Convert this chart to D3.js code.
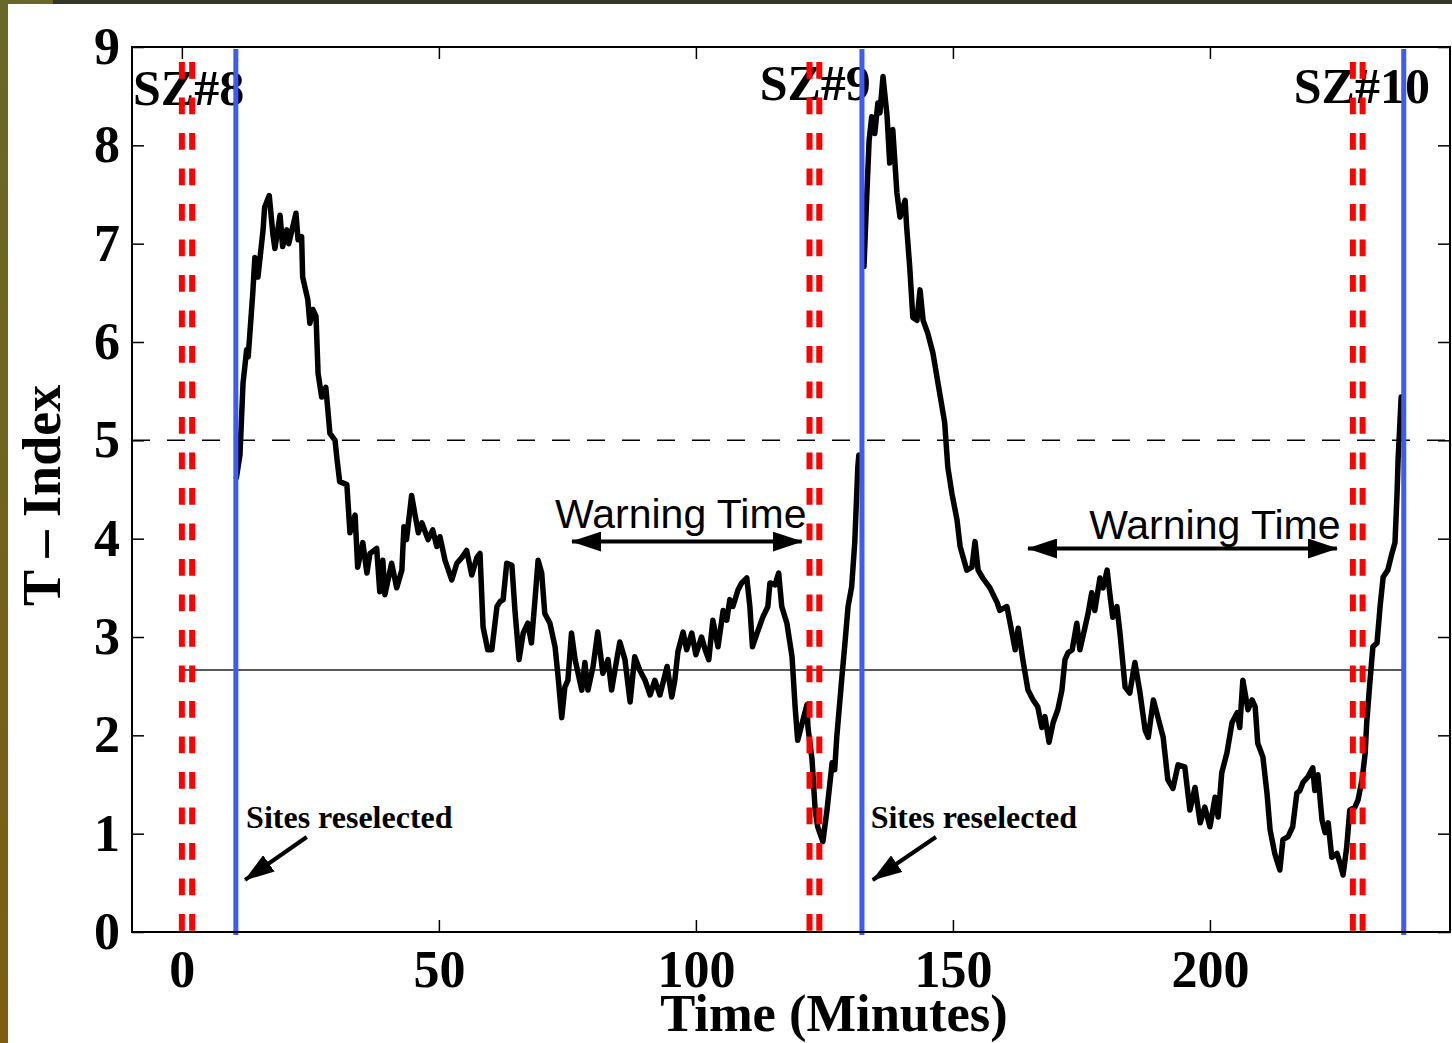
<!DOCTYPE html>
<html>
<head>
<meta charset="utf-8">
<script src="https://cdn.jsdelivr.net/npm/d3@7/dist/d3.min.js"></script>
<style>
  body { margin: 0; background: #fff; }
  svg { display: block; }
</style>
</head>
<body>
<svg id="chart" width="1452" height="1043"></svg>
<script>
// axis ticks
const xTicks = [0, 50, 100, 150, 200];
const yTicks = [0, 1, 2, 3, 4, 5, 6, 7, 8, 9];

// seizures: label, onset lines (two red dashed), sites reselected (blue)
const szLabels = ['SZ#8', 'SZ#9', 'SZ#10'];
const szLabelAt = [[-9.5, 8.41], [112.4, 8.46], [216.3, 8.43]];
const szOnsets = [[0, 2.0], [122.1, 124.0], [227.8, 229.7]];
const reselectTimes = [10.5, 132.3, 237.7];

// reference levels
const criticalLevel = 5;
const thresholdLevel = 2.665;
const thresholdSpan = [0, 237.7];

// T-index, [minutes, value], one run per selection of sites
const tIndexRun1 = [
  [10.6, 4.62], [11.3, 4.85], [11.9, 5.58], [12.6, 5.92], [12.9, 5.85], [13.8, 6.5], [14.2, 6.86],
  [14.8, 6.66], [15.8, 7.14], [16.1, 7.37], [17.0, 7.49], [17.7, 7.1], [18.1, 6.95], [19.1, 7.29],
  [19.6, 6.97], [20.4, 7.14], [20.8, 7.0], [22.2, 7.31], [22.6, 7.04], [23.3, 7.07], [23.5, 6.66],
  [24.5, 6.43], [24.9, 6.19], [25.5, 6.33], [26.1, 6.26], [26.5, 5.68], [27.2, 5.44], [28.0, 5.54],
  [28.4, 5.31], [28.8, 5.07], [29.8, 5.0], [30.2, 4.8], [30.7, 4.58], [32.1, 4.55], [32.7, 4.06],
  [33.7, 4.24], [34.2, 3.71], [35.2, 3.96], [36.0, 3.65], [36.6, 3.85], [37.9, 3.9], [38.5, 3.46],
  [39.1, 3.78], [39.5, 3.43], [40.8, 3.75], [41.8, 3.5], [42.8, 3.68], [43.2, 4.12], [43.7, 3.99],
  [44.7, 4.44], [45.3, 4.26], [46.0, 4.06], [46.7, 4.16], [47.9, 3.99], [48.8, 4.09], [49.6, 3.92],
  [50.2, 4.02], [51.2, 3.78], [52.5, 3.58], [53.5, 3.75], [54.5, 3.81], [55.4, 3.88], [56.4, 3.63],
  [57.4, 3.81], [58.0, 3.85], [58.6, 3.1], [59.5, 2.87], [60.3, 2.87], [61.3, 3.31], [61.9, 3.36],
  [62.5, 3.38], [63.2, 3.75], [64.2, 3.73], [64.8, 3.27], [65.6, 2.77], [66.4, 3.04], [67.3, 3.14],
  [68.0, 2.94], [68.7, 3.38], [69.3, 3.78], [70.0, 3.65], [70.6, 3.24], [71.6, 3.14], [72.6, 2.9],
  [73.2, 2.59], [73.9, 2.18], [74.5, 2.49], [75.1, 2.56], [75.8, 3.04], [76.5, 2.77], [77.8, 2.46],
  [78.4, 2.74], [79.0, 2.46], [80.0, 2.7], [80.9, 3.05], [81.9, 2.63], [82.9, 2.77], [83.6, 2.46],
  [84.6, 2.77], [85.2, 2.95], [86.2, 2.77], [87.2, 2.34], [88.1, 2.8], [89.1, 2.66], [90.1, 2.56],
  [91.1, 2.41], [92.0, 2.56], [93.0, 2.41], [94.4, 2.7], [95.3, 2.39], [95.9, 2.56], [96.5, 2.85],
  [97.5, 3.05], [98.2, 2.87], [99.2, 3.04], [100.0, 2.82], [101.1, 3.0], [101.8, 2.87], [102.5, 2.77],
  [103.3, 3.17], [104.3, 2.9], [105.3, 3.27], [106.0, 3.17], [106.6, 3.38], [107.2, 3.31], [108.2, 3.48],
  [108.9, 3.55], [109.9, 3.6], [110.5, 3.31], [111.0, 2.9], [111.9, 3.04], [113.0, 3.2], [114.0, 3.31],
  [114.4, 3.55], [115.4, 3.53], [116.1, 3.65], [116.7, 3.31], [117.7, 3.14], [118.7, 2.8], [119.3, 2.29],
  [119.8, 1.95], [120.8, 2.15], [121.6, 2.31], [121.8, 2.08], [122.6, 1.75], [123.2, 1.24], [123.7, 1.07],
  [124.7, 0.92], [125.5, 1.24], [126.5, 1.72], [127.0, 1.65], [127.4, 1.98], [128.4, 2.59], [129.0, 2.94],
  [129.6, 3.31], [130.3, 3.51], [130.9, 3.96], [131.5, 4.73], [131.7, 4.85]
];
const tIndexRun2 = [
  [132.7, 6.77], [133.2, 7.44], [133.7, 8.05], [134.2, 8.29], [134.8, 8.12], [135.4, 8.43], [135.8, 8.33],
  [136.4, 8.7], [137.2, 8.29], [137.7, 7.82], [138.3, 8.16], [139.1, 7.52], [139.7, 7.27], [140.7, 7.44],
  [141.0, 7.17], [141.6, 6.76], [142.2, 6.25], [143.0, 6.22], [143.6, 6.53], [144.2, 6.22], [145.1, 6.09],
  [146.1, 5.89], [147.1, 5.58], [148.4, 5.18], [149.0, 4.73], [149.8, 4.46], [150.8, 4.19], [151.4, 3.92],
  [152.7, 3.68], [153.7, 3.71], [154.3, 3.97], [154.9, 3.68], [155.8, 3.6], [157.2, 3.5], [158.6, 3.35],
  [159.1, 3.27], [160.5, 3.31], [161.5, 3.04], [162.1, 2.87], [162.7, 3.09], [163.6, 2.77], [164.6, 2.46],
  [165.6, 2.36], [166.5, 2.29], [167.3, 2.08], [167.9, 2.19], [168.7, 1.93], [169.5, 2.13], [170.4, 2.26],
  [171.2, 2.46], [171.8, 2.77], [172.4, 2.84], [173.2, 2.87], [174.1, 3.14], [174.7, 2.87], [175.7, 3.1],
  [176.3, 3.24], [177.0, 3.45], [177.6, 3.27], [178.6, 3.6], [179.2, 3.5], [180.0, 3.68], [180.5, 3.45],
  [181.1, 3.2], [181.9, 3.31], [182.5, 3.04], [183.5, 2.49], [184.4, 2.43], [185.4, 2.74], [186.4, 2.43],
  [187.4, 2.05], [188.0, 1.98], [189.0, 2.36], [190.0, 2.16], [190.9, 1.98], [191.8, 1.55], [192.8, 1.46],
  [193.8, 1.7], [195.1, 1.68], [196.1, 1.24], [197.1, 1.47], [198.1, 1.11], [199.0, 1.27], [200.0, 1.07],
  [201.0, 1.37], [201.6, 1.17], [202.3, 1.62], [203.3, 1.82], [204.3, 2.13], [205.3, 2.23], [205.8, 2.08],
  [206.4, 2.56], [207.4, 2.26], [208.2, 2.36], [208.8, 2.29], [209.3, 1.92], [210.3, 1.78], [211.1, 1.41],
  [211.7, 1.04], [212.6, 0.8], [213.6, 0.63], [214.2, 0.94], [215.2, 0.97], [216.1, 1.07], [216.9, 1.41],
  [217.5, 1.44], [218.1, 1.52], [219.1, 1.58], [220.0, 1.67], [220.4, 1.44], [221.0, 1.6], [221.8, 1.14],
  [222.4, 1.01], [223.0, 1.11], [223.7, 0.76], [224.7, 0.8], [225.3, 0.7], [225.9, 0.58], [226.6, 0.86],
  [227.2, 1.24], [228.2, 1.27], [228.8, 1.34], [229.6, 1.55], [230.2, 1.82], [230.5, 2.13], [231.1, 2.53],
  [231.7, 2.9], [232.5, 2.94], [233.1, 3.31], [233.7, 3.61], [234.6, 3.68], [235.4, 3.85], [236.0, 3.96],
  [236.4, 4.46], [236.6, 4.8], [237.2, 5.44]
];

// annotations
const warningArrows = [[75.9, 120.6, 3.97], [164.6, 224.7, 3.9]];
const warningLabelAt = [[72.6, 4.11], [176.5, 4.0]];
const reselectArrows = [[[24.3, 0.966], [12.3, 0.529]], [[146.7, 0.966], [134.4, 0.529]]];
const reselectLabelAt = [[12.5, 1.06], [134.0, 1.06]];

const svg = d3.select('#chart');
const serif = '"Liberation Serif", "Times New Roman", serif';
const sans = '"Liberation Sans", Arial, sans-serif';

const plot = { left: 132, right: 1450, top: 47, bottom: 932 };

const x = d3.scaleLinear().domain([-9.7, 246.7]).range([plot.left, plot.right]);
const y = d3.scaleLinear().domain([0, 9]).range([plot.bottom, plot.top]);

// slide edge behind the figure
const defs = svg.append('defs');
const grad = defs.append('linearGradient').attr('id', 'edge').attr('x1', 0).attr('y1', 0).attr('x2', 0).attr('y2', 1);
grad.append('stop').attr('offset', '0%').attr('stop-color', '#676828');
grad.append('stop').attr('offset', '100%').attr('stop-color', '#7c5d12');
svg.append('rect').attr('x', 0).attr('y', 0).attr('width', 1452).attr('height', 4).attr('fill', '#333527');
svg.append('rect').attr('x', 0).attr('y', 0).attr('width', 53).attr('height', 4).attr('fill', '#676828');
svg.append('rect').attr('x', 0).attr('y', 0).attr('width', 8).attr('height', 1043).attr('fill', 'url(#edge)');

defs.append('marker')
    .attr('id', 'head')
    .attr('viewBox', '0 0 30 20')
    .attr('refX', 29).attr('refY', 10)
    .attr('markerWidth', 30).attr('markerHeight', 20)
    .attr('markerUnits', 'userSpaceOnUse')
    .attr('orient', 'auto-start-reverse')
    .append('path')
    .attr('d', 'M0,0 L30,10 L0,20 Z')
    .attr('fill', '#000');

// axes: ticks pointing inward on all four sides
const styleAxis = g => {
    g.select('.domain').remove();
    g.selectAll('.tick line').attr('stroke', '#000').attr('stroke-width', 1.5);
    g.selectAll('.tick text')
        .attr('fill', '#000')
        .style('font-family', serif)
        .style('font-weight', 'bold')
        .style('font-size', '52px');
};

svg.append('g')
    .attr('transform', `translate(0,${plot.bottom})`)
    .call(d3.axisBottom(x).tickValues(xTicks).tickSizeInner(-12).tickSizeOuter(0).tickPadding(18))
    .call(styleAxis);
svg.append('g')
    .attr('transform', `translate(0,${plot.top})`)
    .call(d3.axisTop(x).tickValues(xTicks).tickSizeInner(-12).tickSizeOuter(0).tickFormat(''))
    .call(styleAxis);
svg.append('g')
    .attr('transform', `translate(${plot.left},0)`)
    .call(d3.axisLeft(y).tickValues(yTicks).tickSizeInner(-12).tickSizeOuter(0).tickPadding(12))
    .call(styleAxis);
svg.append('g')
    .attr('transform', `translate(${plot.right},0)`)
    .call(d3.axisRight(y).tickValues(yTicks).tickSizeInner(-12).tickSizeOuter(0).tickFormat(''))
    .call(styleAxis);

// reference lines
svg.append('line')
    .attr('x1', plot.left).attr('x2', plot.right)
    .attr('y1', y(criticalLevel)).attr('y2', y(criticalLevel))
    .attr('stroke', '#000').attr('stroke-width', 1.5)
    .attr('stroke-dasharray', '18 17');
svg.append('line')
    .attr('x1', x(thresholdSpan[0])).attr('x2', x(thresholdSpan[1]))
    .attr('y1', y(thresholdLevel)).attr('y2', y(thresholdLevel))
    .attr('stroke', '#222').attr('stroke-width', 1.5);

// T-index curves
const line = d3.line().x(d => x(d[0])).y(d => y(d[1]));
svg.selectAll('path.tindex')
    .data([tIndexRun1, tIndexRun2])
    .join('path')
    .attr('class', 'tindex')
    .attr('d', line)
    .attr('fill', 'none')
    .attr('stroke', '#000')
    .attr('stroke-width', 5.5)
    .attr('stroke-linejoin', 'round')
    .attr('stroke-linecap', 'round');

// seizure labels
svg.selectAll('text.sz')
    .data(szLabels)
    .join('text')
    .attr('class', 'sz')
    .attr('x', (d, i) => x(szLabelAt[i][0]))
    .attr('y', (d, i) => y(szLabelAt[i][1]))
    .style('font-family', serif)
    .style('font-weight', 'bold')
    .style('font-size', '50px')
    .text(d => d);

// seizure onsets, red double dashed
svg.selectAll('line.onset')
    .data(szOnsets.flat())
    .join('line')
    .attr('class', 'onset')
    .attr('x1', d => x(d)).attr('x2', d => x(d))
    .attr('y1', y(9)).attr('y2', y(0))
    .attr('stroke', '#ff0000')
    .attr('stroke-width', 6)
    .attr('stroke-dasharray', '16.7 18.8')
    .attr('stroke-dashoffset', 20.5);

// sites reselected, blue
svg.selectAll('line.reselect')
    .data(reselectTimes)
    .join('line')
    .attr('class', 'reselect')
    .attr('x1', d => x(d)).attr('x2', d => x(d))
    .attr('y1', y(8.98)).attr('y2', y(-0.03))
    .attr('stroke', '#3b5cf8')
    .attr('stroke-width', 5);

// warning time arrows
svg.selectAll('line.warn')
    .data(warningArrows)
    .join('line')
    .attr('class', 'warn')
    .attr('x1', d => x(d[0])).attr('x2', d => x(d[1]))
    .attr('y1', d => y(d[2])).attr('y2', d => y(d[2]))
    .attr('stroke', '#000').attr('stroke-width', 4)
    .attr('marker-start', 'url(#head)')
    .attr('marker-end', 'url(#head)');
svg.selectAll('text.warn')
    .data(warningLabelAt)
    .join('text')
    .attr('class', 'warn')
    .attr('x', d => x(d[0])).attr('y', d => y(d[1]))
    .style('font-family', sans)
    .style('font-size', '41px')
    .text('Warning Time');

// sites reselected arrows
svg.selectAll('line.site')
    .data(reselectArrows)
    .join('line')
    .attr('class', 'site')
    .attr('x1', d => x(d[0][0])).attr('y1', d => y(d[0][1]))
    .attr('x2', d => x(d[1][0])).attr('y2', d => y(d[1][1]))
    .attr('stroke', '#000').attr('stroke-width', 4)
    .attr('marker-end', 'url(#head)');
svg.selectAll('text.site')
    .data(reselectLabelAt)
    .join('text')
    .attr('class', 'site')
    .attr('x', d => x(d[0])).attr('y', d => y(d[1]))
    .style('font-family', serif)
    .style('font-weight', 'bold')
    .style('font-size', '32px')
    .text('Sites reselected');

// frame
svg.append('rect')
    .attr('x', plot.left).attr('y', plot.top)
    .attr('width', plot.right - plot.left).attr('height', plot.bottom - plot.top)
    .attr('fill', 'none').attr('stroke', '#000').attr('stroke-width', 2);

// axis titles
svg.append('text')
    .attr('x', (plot.left + plot.right) / 2 + 43)
    .attr('y', 1031)
    .attr('text-anchor', 'middle')
    .style('font-family', serif)
    .style('font-weight', 'bold')
    .style('font-size', '52.5px')
    .text('Time (Minutes)');
svg.append('text')
    .attr('transform', `translate(60,${y(4.44)}) rotate(-90)`)
    .attr('text-anchor', 'middle')
    .style('font-family', serif)
    .style('font-weight', 'bold')
    .style('font-size', '54px')
    .text('T – Index');
</script>
</body>
</html>
